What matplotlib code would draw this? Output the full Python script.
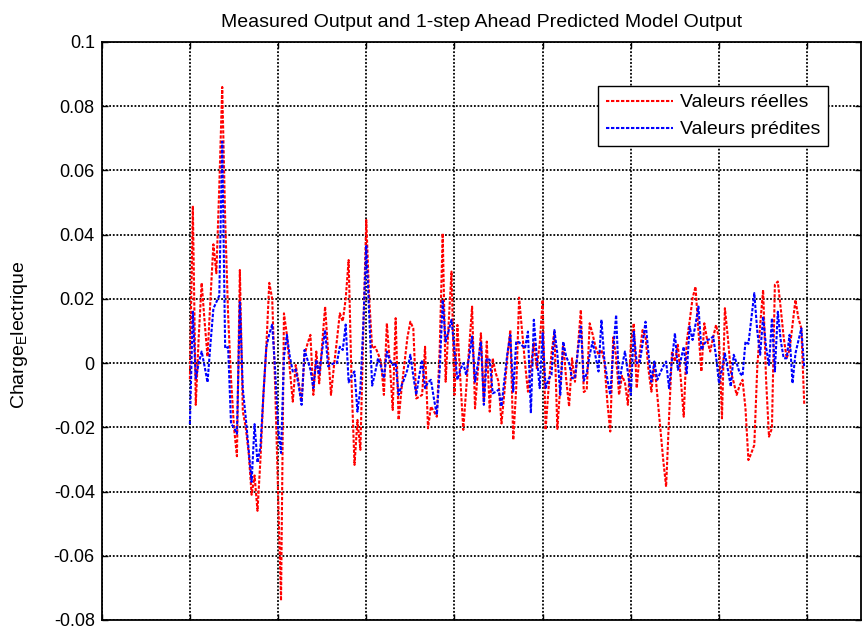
import numpy as np
import matplotlib
matplotlib.use("Agg")
import matplotlib.pyplot as plt

plt.rcParams["font.family"] = ["Liberation Sans", "DejaVu Sans"]
plt.rcParams["mathtext.fontset"] = "custom"
plt.rcParams["mathtext.rm"] = "Liberation Sans"
plt.rcParams["mathtext.it"] = "Liberation Sans"

title = "Measured Output and 1-step Ahead Predicted Model Output"
ylabel = r"Charge$_\mathrm{E}$lectrique"
legend_labels = ["Valeurs réelles", "Valeurs prédites"]

# sample index of the first point
start = 30

# measured output
reelles = [
    -0.005, 0.049, -0.013, 0.008, 0.025, 0.013, 0.002, 0.020, 0.037, 0.028,
    0.055, 0.086, 0.045, 0.015, -0.005, -0.020, -0.029, 0.029, -0.015, -0.020,
    -0.028, -0.041, -0.035, -0.046, -0.030, -0.010, 0.005, 0.025, 0.020, -0.007,
    -0.040, -0.074, 0.0155, 0.0088, -0.002, -0.012, -0.0006, -0.006, -0.012, 0.0026,
    0.006, 0.0088, -0.0099, 0.0036, -0.0063, 0.006, 0.0176, 0.004, -0.0099, -0.001,
    0.007, 0.0155, 0.013, 0.020, 0.0321, -0.006, -0.0317, -0.0177, -0.027, 0.010,
    0.0446, 0.020, 0.0046, 0.0051, 0.003, 0.0005, -0.0099, 0.0124, 0.000, -0.0146,
    0.014, -0.0177, -0.008, 0.000, 0.008, 0.0129, 0.0108, -0.011, -0.0105, -0.0099,
    0.0051, -0.0203, -0.0135, -0.015, -0.0167, 0.005, 0.0404, -0.0058, 0.012, 0.0285,
    -0.0099, 0.0119, -0.005, -0.0208, -0.008, 0.005, 0.0176, -0.0141, -0.002, 0.0093,
    -0.012, 0.0067, -0.0151, 0.0015, -0.003, -0.0058, -0.0188, -0.009, 0.002, 0.0103,
    -0.0239, -0.008, 0.0204, 0.010, 0.000, -0.0089, -0.001, 0.0062, -0.0016, 0.006,
    0.0197, -0.0208, -0.008, 0.003, 0.0098, -0.0205, -0.007, 0.0062, -0.005, -0.0135,
    0.0015, -0.0058, 0.005, 0.0166, -0.009, -0.0083, 0.0124, 0.009, 0.005, 0.0026,
    0.0041, 0.0005, -0.012, -0.0213, 0.008, 0.002, -0.0099, -0.004, -0.006, -0.013,
    0.0057, 0.0124, -0.0078, 0.003, 0.0103, 0.0083, -0.002, -0.0089, 0.000, -0.010,
    -0.0203, -0.030, -0.0385, -0.017, 0.0036, 0.0005, 0.0057, -0.005, -0.0167, 0.0067,
    0.013, 0.0202, 0.0238, 0.010, -0.0026, 0.0124, 0.007, 0.0036, 0.008, 0.0119,
    0.0077, -0.0172, 0.0171, 0.008, -0.0026, -0.006, -0.0099, -0.007, -0.0052, -0.0141,
    -0.0302, -0.028, -0.0255, -0.0016, 0.012, 0.0228, -0.005, -0.0229, -0.0203, 0.0244,
    0.0254, 0.017, 0.008, 0.0015, 0.0041, 0.012, 0.0197, 0.014, 0.0108, -0.013,
]

# 1-step ahead predicted output
predites = [
    -0.019, 0.016, -0.005, 0.000, 0.0036, -0.001, -0.006, 0.006, 0.017, 0.019,
    0.021, 0.069, 0.0046, 0.005, -0.019, -0.020, -0.022, 0.019, -0.008, -0.017,
    -0.027, -0.037, -0.019, -0.031, -0.026, -0.010, 0.005, 0.009, 0.012, -0.002,
    -0.020, -0.028, 0.002, 0.0088, 0.002, -0.0026, -0.002, -0.007, -0.013, 0.0041,
    0.001, -0.002, -0.0078, 0.001, -0.0036, 0.004, 0.0103, -0.001, -0.0005, 0.000,
    0.000, 0.0051, 0.0041, 0.012, -0.006, -0.004, -0.0026, -0.0151, -0.008, 0.012,
    0.0368, 0.015, -0.007, -0.003, 0.0015, -0.001, -0.0047, 0.0036, 0.001, -0.0006,
    0.000, -0.0099, -0.007, -0.0047, -0.002, 0.0026, -0.004, -0.0099, -0.004, 0.001,
    -0.0078, -0.006, -0.0052, -0.011, -0.0161, -0.002, 0.0197, 0.0067, 0.010, 0.0135,
    0.004, -0.0052, -0.002, 0.000, -0.0037, 0.002, 0.0083, -0.0058, 0.000, 0.0067,
    -0.013, 0.0015, 0.001, -0.0094, -0.009, -0.0083, -0.0135, -0.005, 0.003, 0.0088,
    -0.0089, 0.0067, 0.0065, 0.0055, 0.0046, 0.0098, -0.0156, 0.0135, 0.002, -0.0078,
    0.0093, -0.0078, -0.005, -0.0037, 0.0103, 0.003, -0.0099, 0.0067, 0.002, 0.000,
    -0.0047, -0.0047, 0.004, 0.0114, -0.0055, -0.0032, 0.0026, 0.0067, 0.002, -0.0026,
    0.0135, 0.001, -0.005, -0.0099, 0.004, 0.015, -0.0068, -0.001, 0.0036, -0.003,
    -0.0099, 0.0098, 0.000, 0.000, 0.006, 0.0129, 0.003, -0.0058, 0.0005, -0.0052,
    -0.003, -0.001, 0.0005, -0.0078, 0.001, 0.0093, -0.0021, 0.001, 0.0051, -0.0032,
    0.0114, 0.0072, 0.012, 0.0176, 0.0041, 0.006, 0.0072, 0.0075, 0.0083, 0.002,
    -0.0063, -0.002, 0.003, -0.002, -0.0073, 0.0026, 0.000, -0.003, -0.004, 0.0067,
    0.006, 0.014, 0.0218, 0.010, 0.0026, 0.0145, 0.005, -0.0006, 0.014, -0.0026,
    0.016, 0.007, 0.0015, 0.0015, 0.0088, -0.0063, 0.003, 0.007, 0.0108, -0.0016,
]

xticks = [0, 30, 60, 90, 120, 150, 180, 210, 240]
yticks = [-0.08, -0.06, -0.04, -0.02, 0.0, 0.02, 0.04, 0.06, 0.08, 0.1]
ytick_labels = ["-0.08", "-0.06", "-0.04", "-0.02", "0", "0.02", "0.04", "0.06", "0.08", "0.1"]

t = np.arange(start, start + len(reelles))

W, H = 864, 629
fig = plt.figure(figsize=(W / 100, H / 100), dpi=100)
fig.patch.set_facecolor("white")
x0, x1, y0, y1 = 101.7, 861.0, 42.0, 620.0
ax = fig.add_axes([x0 / W, 1 - y1 / H, (x1 - x0) / W, (y1 - y0) / H])

dot = (0, (1.6, 0.8))
ax.plot(t, reelles, color="#ff0000", linestyle=dot, linewidth=1.5, label=legend_labels[0])
ax.plot(t, predites, color="#0000ff", linestyle=dot, linewidth=1.5, label=legend_labels[1])

ax.set_xlim(0, 258.3)
ax.set_ylim(-0.08, 0.1)
ax.set_xticks(xticks)
ax.set_yticks(yticks)
ax.set_yticklabels(ytick_labels)
ax.tick_params(direction="in", top=True, right=True, length=4, width=1, pad=5,
               labelbottom=False, labelsize=13, colors="black")
ax.grid(True, color="black", linestyle=(0, (1, 1)), linewidth=1.3)
for sp in ax.spines.values():
    sp.set_linestyle((0, (1, 1)))
    sp.set_linewidth(1.3)
    sp.set_color("black")

ax.set_title(title, fontsize=14, pad=11)
ax.set_ylabel(ylabel, fontsize=14)
ax.yaxis.set_label_coords(-0.094, 0.493)

leg = ax.legend(loc="upper right", bbox_to_anchor=(0.9566, 0.9239), borderaxespad=0,
                frameon=True, fancybox=False, framealpha=1, edgecolor="black",
                fontsize=14, handlelength=3.45, handletextpad=0.36, borderpad=0.4,
                labelspacing=0.48)
leg.get_frame().set_linewidth(1.0)

fig.savefig("out.png", dpi=100, facecolor="white")
